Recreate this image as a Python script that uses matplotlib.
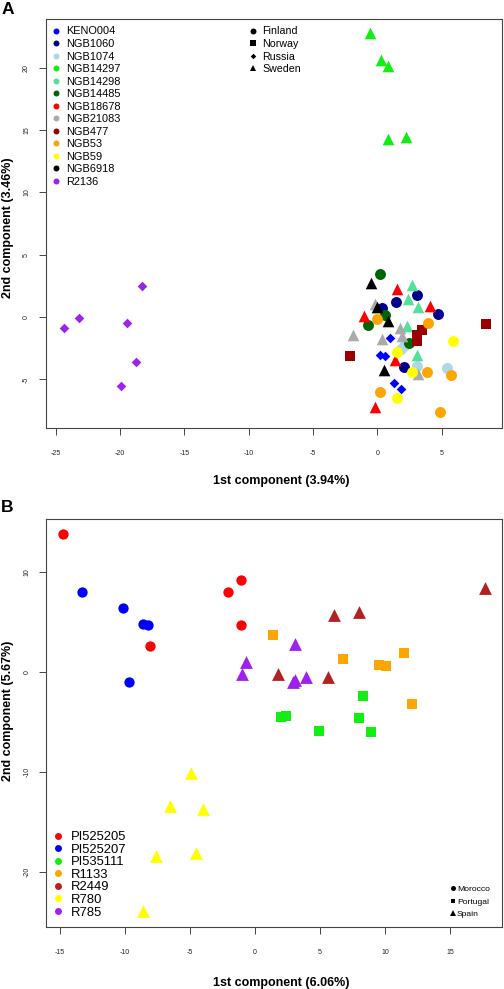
import matplotlib
matplotlib.use("Agg")
import matplotlib.pyplot as plt
from matplotlib.lines import Line2D

plt.rcParams['font.family'] = ['Liberation Sans', 'DejaVu Sans']
plt.rcParams['axes.unicode_minus'] = False

# ---------------- panel A data ----------------
a_names = ["KENO004", "NGB1060", "NGB1074", "NGB14297", "NGB14298", "NGB14485", "NGB18678",
           "NGB21083", "NGB477", "NGB53", "NGB59", "NGB6918", "R2136"]
a_colors = ["#0000FF", "#00008B", "#ADD8E6", "#11EE11", "#55E09A", "#006400", "#FF0000",
            "#AAAAAA", "#990000", "#FFA500", "#FFFF00", "#000000", "#A020F0"]
a_countries = ["Finland", "Norway", "Russia", "Sweden"]

a_acc = (["KENO004"] * 5 + ["NGB1060"] * 5 + ["NGB1074"] * 4 + ["NGB14297"] * 5 +
         ["NGB14298"] * 5 + ["NGB14485"] * 4 + ["NGB18678"] * 5 + ["NGB21083"] * 6 +
         ["NGB477"] * 5 + ["NGB53"] * 6 + ["NGB59"] * 4 + ["NGB6918"] * 4 + ["R2136"] * 6)
a_ctry = (["Russia"] * 5 + ["Finland"] * 5 + ["Finland"] * 4 + ["Sweden"] * 5 +
          ["Sweden"] * 5 + ["Finland"] * 4 + ["Sweden"] * 5 + ["Sweden"] * 6 +
          ["Norway"] * 5 + ["Finland"] * 6 + ["Finland"] * 4 + ["Sweden"] * 4 + ["Russia"] * 6)
a_pc1 = [0.96, 0.23, 0.62, 1.32, 1.84,
         1.48, 0.36, 3.10, 4.76, 2.12,
         2.05, 1.85, 3.08, 5.41,
         -0.54, 0.31, 0.85, 0.85, 2.25,
         2.69, 2.38, 3.20, 2.30, 3.13,
         0.18, 0.62, -0.75, 2.48,
         1.53, 4.14, -1.01, 1.40, -0.21,
         -0.16, -1.89, 0.36, 1.79, 1.92, 3.16,
         8.44, 3.47, 3.08, 3.08, -2.15,
         -0.02, 3.98, 3.90, 5.75, 0.18, 4.89,
         5.92, 1.53, 2.74, 1.53,
         -0.49, 0.02, 0.80, 0.49,
         -24.36, -23.16, -18.27, -19.43, -18.73, -19.90]
a_pc2 = [-1.68, -3.02, -3.16, -5.29, -5.75,
         1.20, 0.72, 1.73, 0.26, -4.01,
         -2.30, -2.60, -3.90, -4.09,
         22.80, 20.60, 20.10, 14.30, 14.45,
         2.53, 1.44, 0.83, -0.75, -3.02,
         3.45, 0.13, -0.64, -2.09,
         2.27, 0.88, 0.10, -3.42, -7.22,
         1.04, -1.42, -1.76, -0.88, -1.55, -4.55,
         -0.54, -1.07, -1.42, -1.95, -3.16,
         -0.14, -0.48, -4.44, -4.63, -6.05, -7.65,
         -1.95, -2.84, -4.41, -6.53,
         2.69, 0.77, -0.30, -4.28,
         -0.88, -0.11, 2.45, -0.51, -3.64, -5.49]

# ---------------- panel B data ----------------
b_names = ["PI525205", "PI525207", "PI535111", "R1133", "R2449", "R780", "R785"]
b_colors = ["#FF0000", "#0000FF", "#11EE11", "#FFA500", "#B22222", "#FFFF00", "#A020F0"]
b_countries = ["Morocco", "Portugal", "Spain"]

b_acc = (["PI525205"] * 5 + ["PI525207"] * 5 + ["PI535111"] * 6 + ["R1133"] * 6 +
         ["R2449"] * 5 + ["R780"] * 6 + ["R785"] * 6)
b_ctry = (["Morocco"] * 10 + ["Portugal"] * 12 + ["Spain"] * 17)
b_pc1 = [-14.74, -1.10, -2.10, -1.10, -8.08,
         -13.28, -10.13, -8.59, -8.20, -9.67,
         1.97, 2.38, 4.95, 8.33, 8.00, 8.92,
         1.41, 6.74, 9.56, 10.05, 11.46, 12.10,
         6.10, 8.00, 17.69, 1.79, 5.64,
         -4.95, -6.54, -3.97, -7.62, -4.54, -8.59,
         -0.69, -1.02, 3.08, 3.08, 3.92, 2.95]
b_pc2 = [13.80, 9.23, 8.03, 4.73, 2.60,
         8.03, 6.43, 4.80, 4.70, -1.00,
         -4.44, -4.37, -5.87, -2.34, -4.57, -6.00,
         3.73, 1.37, 0.70, 0.67, 1.93, -3.17,
         5.73, 6.06, 8.40, -0.17, -0.50,
         -10.10, -13.37, -13.67, -18.37, -18.04, -23.84,
         1.06, -0.20, 2.83, -0.77, -0.50, -0.94]

shape = {"Finland": "o", "Morocco": "o", "Norway": "s", "Portugal": "s",
         "Russia": "D", "Sweden": "^", "Spain": "^"}
msize = {"o": 62, "s": 46, "D": 24, "^": 70}


def style_axes(ax, xlim, ylim, xticks, yticks):
    ax.set_xlim(xlim)
    ax.set_ylim(ylim)
    ax.set_xticks(xticks)
    ax.set_yticks(yticks)
    ax.tick_params(axis="both", direction="out", length=5, width=0.7,
                   color="#444444", labelsize=5, labelcolor="#222222")
    ax.tick_params(axis="x", pad=10.5)
    ax.tick_params(axis="y", pad=6.5, labelrotation=90)
    for lab in ax.get_yticklabels():
        lab.set_va("center")
    for sp in ax.spines.values():
        sp.set_linewidth(0.8)
        sp.set_color("#444444")


def scatter_panel(ax, names, colors, acc, ctry, pc1, pc2, sizes):
    cmap = dict(zip(names, colors))
    for a, c, x, y in zip(acc, ctry, pc1, pc2):
        m = shape[c]
        ax.scatter(x, y, s=sizes[m], marker=m, color=cmap[a], linewidths=0, zorder=3)


fig = plt.figure(figsize=(5.04, 9.89), dpi=100)

# ---------------- panel A ----------------
axA = fig.add_axes([0.0913, 0.5672, 0.9047, 0.4136])
scatter_panel(axA, a_names, a_colors, a_acc, a_ctry, a_pc1, a_pc2, msize)
style_axes(axA, (-25.75, 9.7), (-8.9, 23.9), range(-25, 10, 5), range(-5, 25, 5))
axA.set_xlabel("1st component (3.94%)", fontsize=9, fontweight="bold")
axA.set_ylabel("2nd component (3.46%)", fontsize=9, fontweight="bold")
axA.xaxis.set_label_coords(0.515, -0.129)
axA.xaxis.label.set_va("center")
axA.yaxis.set_label_coords(-0.083, 0.49)
axA.yaxis.label.set_va("center")

h_acc = [Line2D([], [], marker="o", linestyle="", color=c, markersize=4.3, markeredgewidth=0)
         for c in a_colors]
leg1 = axA.legend(h_acc, a_names, loc="upper left", bbox_to_anchor=(0.0125, 0.9817),
                  frameon=False, fontsize=7.9, borderpad=0, handlelength=0.8,
                  handletextpad=0.5, labelspacing=0.23, borderaxespad=0)
axA.add_artist(leg1)
a_shape_sz = {"o": 4.3, "s": 3.8, "D": 2.8, "^": 4.5}
h_ctry = [Line2D([], [], marker=shape[c], linestyle="", color="black",
                 markersize=a_shape_sz[shape[c]], markeredgewidth=0) for c in a_countries]
axA.legend(h_ctry, a_countries, loc="upper left", bbox_to_anchor=(0.4445, 0.9817),
           frameon=False, fontsize=7.7, borderpad=0, handlelength=0.8,
           handletextpad=0.5, labelspacing=0.24, borderaxespad=0)

fig.text(0.015, 1 - 9 / 989, "A", fontsize=12.5, fontweight="bold", va="center", ha="center")

# ---------------- panel B ----------------
axB = fig.add_axes([0.0919, 0.0624, 0.9041, 0.4128])
msizeB = {"o": 55, "s": 42, "D": 24, "^": 85}
scatter_panel(axB, b_names, b_colors, b_acc, b_ctry, b_pc1, b_pc2, msizeB)
style_axes(axB, (-16.05, 19.0), (-25.5, 15.33), range(-15, 20, 5), range(-20, 20, 10))
axB.set_xlabel("1st component (6.06%)", fontsize=9, fontweight="bold")
axB.set_ylabel("2nd component (5.67%)", fontsize=9, fontweight="bold")
axB.xaxis.set_label_coords(0.515, -0.1357)
axB.xaxis.label.set_va("center")
axB.yaxis.set_label_coords(-0.083, 0.53)
axB.yaxis.label.set_va("center")

hb_acc = [Line2D([], [], marker="o", linestyle="", color=c, markersize=5, markeredgewidth=0)
          for c in b_colors]
leg2 = axB.legend(hb_acc, b_names, loc="upper left", bbox_to_anchor=(0.0149, 0.2354),
                  frameon=False, fontsize=9.4, borderpad=0, handlelength=0.8,
                  handletextpad=0.55, labelspacing=0.03, borderaxespad=0)
axB.add_artist(leg2)
b_shape_sz = {"o": 3.6, "s": 3.3, "^": 4.0}
hb_ctry = [Line2D([], [], marker=shape[c], linestyle="", color="black",
                  markersize=b_shape_sz[shape[c]], markeredgewidth=0) for c in b_countries]
axB.legend(hb_ctry, b_countries, loc="upper left", bbox_to_anchor=(0.8863, 0.1026),
           frameon=False, fontsize=6.1, borderpad=0, handlelength=0.6,
           handletextpad=0.2, labelspacing=0.54, borderaxespad=0)

fig.text(0.015, 1 - 508 / 989, "B", fontsize=12.5, fontweight="bold", va="center", ha="center")

fig.savefig("out.png", dpi=100, facecolor="white")
